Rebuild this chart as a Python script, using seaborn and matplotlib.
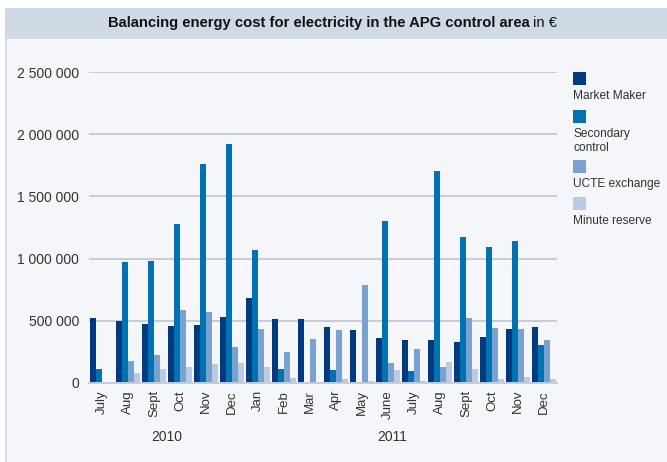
import matplotlib
matplotlib.use("Agg")
import matplotlib.pyplot as plt
from matplotlib.patches import Rectangle
import seaborn as sns
import pandas as pd

months = ["July", "Aug", "Sept", "Oct", "Nov", "Dec", "Jan", "Feb", "Mar", "Apr", "May", "June",
          "July", "Aug", "Sept", "Oct", "Nov", "Dec"]
years = ["2010", "2011"]
series = ["Market Maker", "Secondary\ncontrol", "UCTE exchange", "Minute reserve"]

market_maker = [525000, 500000, 477000, 460000, 468000, 533000, 686000, 516000, 516000, 452000, 428000, 364000,
                348000, 348000, 332000, 372000, 436000, 452000]
secondary = [115000, 975000, 983000, 1280000, 1763000, 1924000, 1072000, 115000, 0, 107000, 0, 1305000,
             100000, 1707000, 1170000, 1097000, 1145000, 308000]
ucte = [2000, 180000, 228000, 590000, 573000, 290000, 436000, 252000, 356000, 428000, 790000, 163000,
        276000, 130000, 525000, 444000, 436000, 348000]
minute = [10000, 83000, 115000, 130000, 155000, 163000, 130000, 40000, 3000, 30000, 20000, 107000,
          20000, 170000, 115000, 35000, 50000, 35000]

colors = ["#003a80", "#0071b1", "#79a2cf", "#b9cce4"]
yticks = [0, 500000, 1000000, 1500000, 2000000, 2500000]

idx = [f"{i:02d}" for i in range(len(months))]
rows = []
for s, vals in zip(series, [market_maker, secondary, ucte, minute]):
    for i, v in zip(idx, vals):
        rows.append({"slot": i, "series": s, "value": v})
df = pd.DataFrame(rows)

sns.set_theme(style="white")
plt.rcParams["font.family"] = ["Liberation Sans", "DejaVu Sans"]

W, H = 667, 462
fig = plt.figure(figsize=(W / 100, H / 100), dpi=100)
fig.patch.set_facecolor("#f5f6fa")

# white strip top, title band, left border
fig.patches.append(Rectangle((0, 1 - 8 / H), 1, 8 / H, transform=fig.transFigure,
                             facecolor="white", edgecolor="none", zorder=0))
fig.patches.append(Rectangle((0, 0), 5 / W, 1, transform=fig.transFigure,
                             facecolor="white", edgecolor="none", zorder=0))
fig.patches.append(Rectangle((5 / W, 1 - 39 / H), 1, 31 / H, transform=fig.transFigure,
                             facecolor="#d0dae4", edgecolor="none", zorder=0))
fig.patches.append(Rectangle((5 / W, 0), 1.5 / W, 1 - 39 / H, transform=fig.transFigure,
                             facecolor="#d6dde8", edgecolor="none", zorder=0))

ax = fig.add_axes([89 / W, 1 - 383 / H, (557 - 89) / W, (383 - 72) / H])
ax.set_facecolor("#f5f6fa")
sns.barplot(data=df, x="slot", y="value", hue="series", palette=colors, width=0.95, gap=0,
            ax=ax, legend=False, saturation=1, linewidth=0, edgecolor="none")
ax.set_xlim(-0.5, len(months) - 0.5)
ax.set_ylim(0, 2500000)
ax.set_yticks(yticks)
ax.set_yticklabels([f"{v:,}".replace(",", " ") for v in yticks], fontsize=10, color="#333333")
ax.yaxis.grid(True, color="#c6cdd9", linewidth=1.4)
ax.set_axisbelow(True)
for sp in ["top", "right", "left"]:
    ax.spines[sp].set_visible(False)
ax.spines["bottom"].set_color("#c6cdd9")
ax.spines["bottom"].set_linewidth(1.4)
ax.tick_params(axis="y", length=0, pad=7)
ax.set_xticks(range(len(months)))
ax.set_xticklabels(months, rotation=90, fontsize=9.5, color="#333333")
ax.tick_params(axis="x", which="major", length=0, pad=5)
ax.set_xticks([i - 0.5 for i in range(len(months) + 1)], minor=True)
ax.tick_params(axis="x", which="minor", length=7, color="#c6cdd9", width=1.2, direction="out")
ax.set_xlabel("")
ax.set_ylabel("")

# year labels
ax.text(2.5, -0.175, years[0], transform=ax.get_xaxis_transform(), ha="center", va="center",
        fontsize=10, color="#333333")
ax.text(11.15, -0.175, years[1], transform=ax.get_xaxis_transform(), ha="center", va="center",
        fontsize=10, color="#333333")

# title
title_font = ["Liberation Sans Narrow", "Liberation Sans", "DejaVu Sans"]
fs = 10.6
t1 = fig.text(108 / W, 1 - 23 / H, "Balancing energy cost for electricity in the APG control area",
              ha="left", va="center", fontsize=fs, fontweight="bold", family=title_font,
              color="#111111")
fig.canvas.draw()
bb = t1.get_window_extent()
fig.text((bb.x1 + 3) / W, 1 - 23 / H, "in €", ha="left", va="center", fontsize=fs,
         family=title_font, color="#111111")

# legend (drawn manually: square above label)
sq_tops = [72, 110, 160, 197]
for s, c, top in zip(series, colors, sq_tops):
    fig.patches.append(Rectangle((573 / W, 1 - (top + 13) / H), 13 / W, 13 / H,
                                 transform=fig.transFigure, facecolor=c, edgecolor="none"))
    fig.text(573 / W, 1 - (top + 18) / H, s, ha="left", va="top", fontsize=8.6,
             color="#333333", linespacing=1.25)

fig.savefig("out.png", dpi=100, facecolor=fig.get_facecolor())
